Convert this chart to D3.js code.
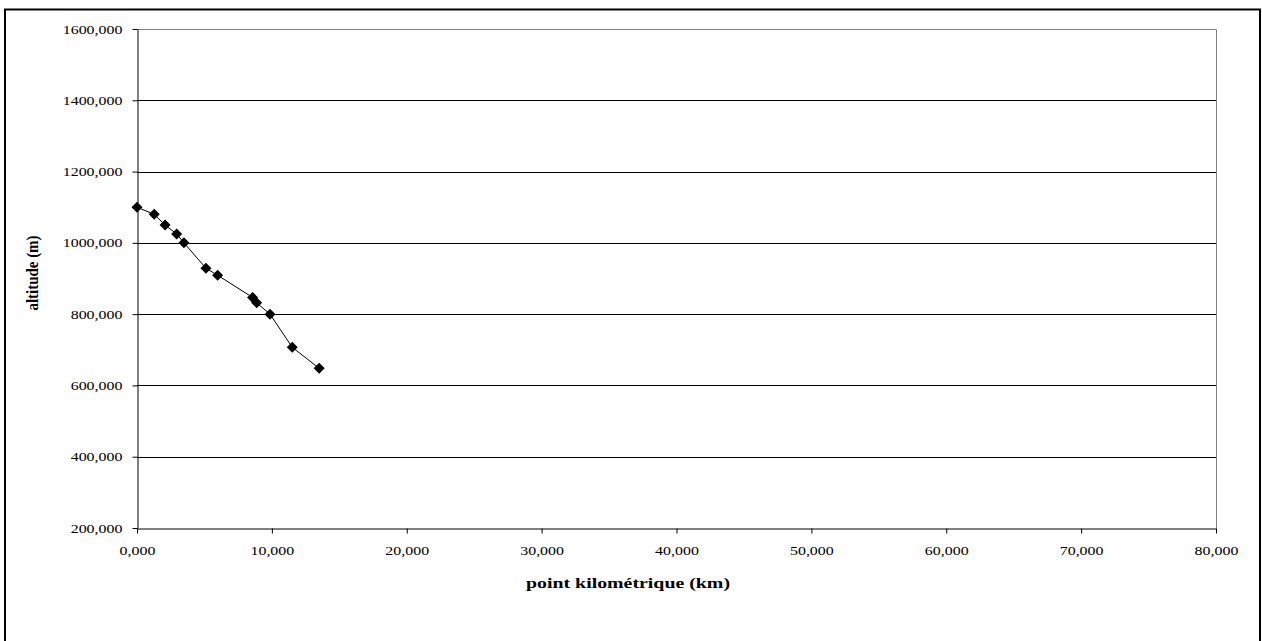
<!DOCTYPE html>
<html><head><meta charset="utf-8">
<script src="https://cdn.jsdelivr.net/npm/d3@7"></script>
<style>body{margin:0;background:#fff}svg{display:block}text{font-family:"Liberation Serif","Times New Roman",serif}</style>
</head><body>
<script>
const pk = [0, 1.28, 2.08, 2.94, 3.48, 5.11, 5.98, 8.57, 8.87, 9.86, 11.51, 13.51];
const altitude = [1100, 1080, 1050, 1025, 1000, 929, 909, 847, 832, 800, 707, 648];
const xTicks = [0, 10, 20, 30, 40, 50, 60, 70, 80];
const yTicks = [200, 400, 600, 800, 1000, 1200, 1400, 1600];
const xTitle = "point kilométrique (km)";
const yTitle = "altitude (m)";

const W = 1262, H = 641;
const svg = d3.select("body").append("svg").attr("width", W).attr("height", H);
svg.append("rect").attr("x", 5).attr("y", 9.5).attr("width", 1255).attr("height", 660)
  .attr("fill", "#fff").attr("stroke", "#000").attr("stroke-width", 2);

const L = 137, R = 1216, T = 29, B = 528;
const x = d3.scaleLinear().domain([0, 80]).range([L, R]);
const y = d3.scaleLinear().domain([200, 1600]).range([B, T]);
const fmt = d => d3.format(".3f")(d).replace(".", ",");

// gridlines
svg.append("g").selectAll("line").data(yTicks.slice(1, -1)).join("line")
  .attr("x1", L).attr("x2", R).attr("y1", d => Math.round(y(d)) + 0.5).attr("y2", d => Math.round(y(d)) + 0.5)
  .attr("stroke", "#000").attr("stroke-width", 1);
// plot area border top/right
svg.append("path").attr("d", `M${L},${T + 0.5}H${R + 0.5}V${B}`).attr("fill", "none").attr("stroke", "#808080").attr("stroke-width", 1);

// y axis
const ya = svg.append("g").attr("transform", `translate(${L + 0.5},0)`)
  .call(d3.axisLeft(y).tickValues(yTicks).tickSize(5).tickSizeOuter(0).tickFormat(fmt));
ya.select(".domain").attr("stroke", "#000");
ya.selectAll(".tick line").attr("stroke", "#000");
ya.selectAll(".tick text").attr("font-size", 12).attr("fill", "#000")
  .attr("x", 0).attr("dy", "0.34em")
  .attr("transform", "translate(-15,0) scale(1.33,1)");

// x axis
const xa = svg.append("g").attr("transform", `translate(0,${B + 0.5})`)
  .call(d3.axisBottom(x).tickValues(xTicks).tickSize(5).tickSizeOuter(0).tickFormat(fmt));
xa.select(".domain").attr("stroke", "#000");
xa.selectAll(".tick line").attr("stroke", "#000");
xa.selectAll(".tick text").attr("font-size", 12).attr("fill", "#000")
  .attr("y", 0).attr("dy", 0)
  .attr("transform", "translate(0,26) scale(1.33,1)");

// line + markers
const line = d3.line().x((d, i) => x(pk[i])).y(d => y(d));
svg.append("path").datum(altitude).attr("d", line).attr("fill", "none").attr("stroke", "#000").attr("stroke-width", 1);
svg.append("g").selectAll("path").data(altitude).join("path")
  .attr("transform", (d, i) => `translate(${x(pk[i])},${y(d)})`)
  .attr("d", "M0,-5.5L5.5,0L0,5.5L-5.5,0Z").attr("fill", "#000");

// titles
svg.append("text").attr("x", 628).attr("y", 588).attr("text-anchor", "middle")
  .attr("font-size", 15).attr("font-weight", "bold").attr("textLength", 204).attr("lengthAdjust", "spacingAndGlyphs")
  .text(xTitle);
svg.append("text").attr("transform", "translate(38,273) rotate(-90)").attr("text-anchor", "middle")
  .attr("font-size", 16).attr("font-weight", "bold").attr("textLength", 75).attr("lengthAdjust", "spacingAndGlyphs")
  .text(yTitle);
</script>
</body></html>
